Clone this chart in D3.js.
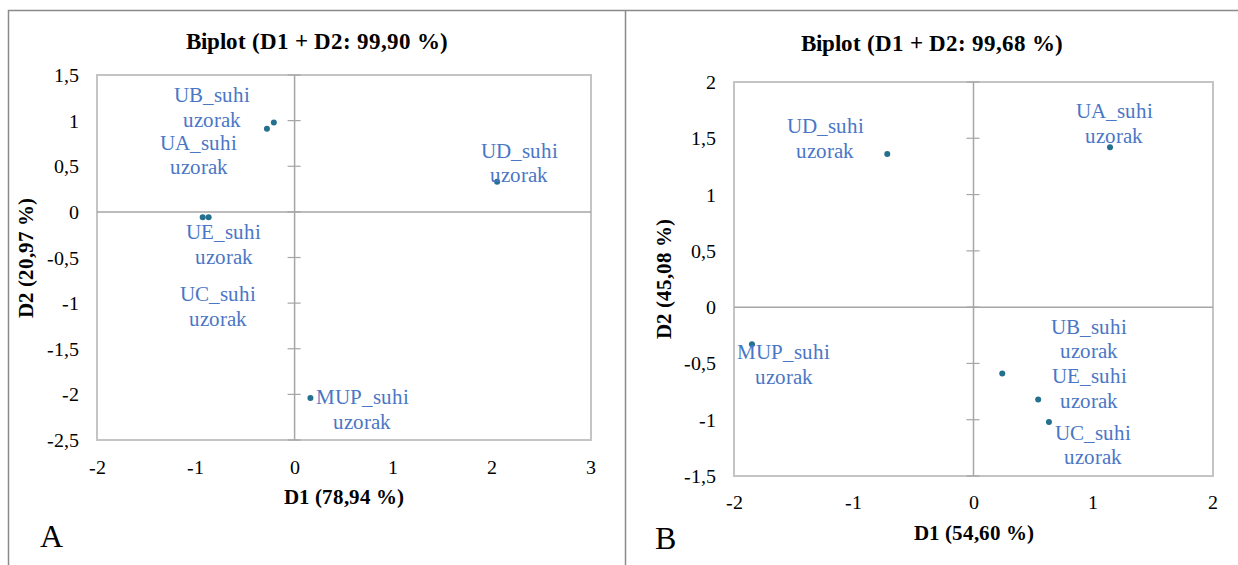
<!DOCTYPE html>
<html>
<head>
<meta charset="utf-8">
<script src="https://cdn.jsdelivr.net/npm/d3@7"></script>
<style>
  @font-face { font-family: "RefSerif"; font-weight: normal; src: local("Liberation Serif"), local("LiberationSerif"), local("Tinos"); }
  @font-face { font-family: "RefSerif"; font-weight: bold; src: local("Liberation Serif Bold"), local("LiberationSerif-Bold"), local("Tinos Bold"); }
  body { margin: 0; font-family: "Liberation Serif", monospace; }
</style>
</head>
<body>
<svg id="chart" width="1238" height="565"></svg>
<script>
// ---------------- DATA ----------------
const labelsA = ["UA_suhi uzorak", "UB_suhi uzorak", "UC_suhi uzorak", "UD_suhi uzorak", "UE_suhi uzorak", "MUP_suhi uzorak"];
const d1A = [-0.28, -0.21, -0.93, 2.05, -0.87, 0.16];
const d2A = [0.91, 0.98, -0.06, 0.33, -0.06, -2.04];
const xTicksA = [-2, -1, 0, 1, 2, 3];
const yTicksA = [-2.5, -2, -1.5, -1, -0.5, 0, 0.5, 1, 1.5];
const titleA = "Biplot (D1 + D2: 99,90 %)";
const xTitleA = "D1 (78,94 %)";
const yTitleA = "D2 (20,97 %)";

const labelsB = ["UA_suhi uzorak", "UB_suhi uzorak", "UC_suhi uzorak", "UD_suhi uzorak", "UE_suhi uzorak", "MUP_suhi uzorak"];
const d1B = [1.14, 0.24, 0.63, -0.72, 0.54, -1.85];
const d2B = [1.42, -0.59, -1.02, 1.36, -0.82, -0.33];
const xTicksB = [-2, -1, 0, 1, 2];
const yTicksB = [-1.5, -1, -0.5, 0, 0.5, 1, 1.5, 2];
const titleB = "Biplot (D1 + D2: 99,68 %)";
const xTitleB = "D1 (54,60 %)";
const yTitleB = "D2 (45,08 %)";

// ---------------- LAYOUT ----------------
const FONT = 'RefSerif, "Liberation Serif", Tinos, monospace';
const panels = [
  {
    letter: "A", labels: labelsA, xs: d1A, ys: d2A, xTicks: xTicksA, yTicks: yTicksA,
    title: titleA, xTitle: xTitleA, yTitle: yTitleA,
    box: { left: 97, right: 591, top: 75, bottom: 440 },
    titleX: 316.5, titleY: 49,
    xLabY: 474, xTitleY: 504, yTitleX: 26,
    letterX: 40, letterY: 547,
    offs: [[-68, 14], [-62, -27], [15, 77], [22, -31], [15, 15], [52, -1]]
  },
  {
    letter: "B", labels: labelsB, xs: d1B, ys: d2B, xTicks: xTicksB, yTicks: yTicksB,
    title: titleB, xTitle: xTitleB, yTitle: yTitleB,
    box: { left: 734, right: 1213, top: 82, bottom: 476 },
    titleX: 932, titleY: 51,
    xLabY: 509, xTitleY: 540, yTitleX: 664,
    letterX: 655, letterY: 549,
    offs: [[4, -36], [87, -47], [44, 11], [-62, -28], [51, -23], [32, 8]]
  }
];

const svg = d3.select("#chart").style("display", "block").style("background", "#fff")
  .style("font-family", FONT);
const fmt = v => String(v).replace(".", ",");
const txt = (parent, size, bold) => {
  const t = parent.append("text").style("font-family", FONT).attr("font-size", size);
  if (bold) t.attr("font-weight", "bold");
  return t;
};

svg.append("line").attr("x1", 8).attr("x2", 1238).attr("y1", 10.5).attr("y2", 10.5)
  .attr("stroke", "#8a8a8a").attr("stroke-width", 1.5);
svg.append("line").attr("x1", 8.5).attr("x2", 8.5).attr("y1", 10).attr("y2", 565)
  .attr("stroke", "#8a8a8a").attr("stroke-width", 1.5);
svg.append("line").attr("x1", 625.5).attr("x2", 625.5).attr("y1", 10).attr("y2", 565)
  .attr("stroke", "#8a8a8a").attr("stroke-width", 1.5);

panels.forEach(p => {
  const b = p.box;
  const x = d3.scaleLinear().domain([p.xTicks[0], p.xTicks[p.xTicks.length - 1]]).range([b.left, b.right]);
  const y = d3.scaleLinear().domain([p.yTicks[0], p.yTicks[p.yTicks.length - 1]]).range([b.bottom, b.top]);

  svg.append("rect").attr("x", b.left).attr("y", b.top)
    .attr("width", b.right - b.left).attr("height", b.bottom - b.top)
    .attr("fill", "none").attr("stroke", "#c4c4c4").attr("stroke-width", 2);

  svg.append("line").attr("x1", b.left).attr("x2", b.right).attr("y1", y(0)).attr("y2", y(0))
    .attr("stroke", "#a6a6a6").attr("stroke-width", 1.5);
  svg.append("line").attr("x1", x(0)).attr("x2", x(0)).attr("y1", b.top).attr("y2", b.bottom)
    .attr("stroke", "#a6a6a6").attr("stroke-width", 1.5);

  p.yTicks.forEach(v => {
    svg.append("line").attr("x1", x(0) - 7).attr("x2", x(0) + 6)
      .attr("y1", y(v)).attr("y2", y(v))
      .attr("stroke", "#a6a6a6").attr("stroke-width", 1.2);
  });

  p.yTicks.forEach(v => {
    txt(svg, 20).attr("x", b.left - 18).attr("y", y(v) + 7).attr("text-anchor", "end")
      .attr("fill", "#000").text(fmt(v));
  });
  p.xTicks.forEach(v => {
    txt(svg, 20).attr("x", x(v)).attr("y", p.xLabY).attr("text-anchor", "middle")
      .attr("fill", "#000").text(fmt(v));
  });

  txt(svg, 23, true).attr("x", p.titleX).attr("y", p.titleY).attr("text-anchor", "middle").text(p.title);
  txt(svg, 21, true).attr("x", (b.left + b.right) / 2).attr("y", p.xTitleY).attr("text-anchor", "middle").text(p.xTitle);
  txt(svg, 21, true)
    .attr("transform", `translate(${p.yTitleX + 7},${(b.top + b.bottom) / 2}) rotate(-90)`)
    .attr("text-anchor", "middle").text(p.yTitle);

  txt(svg, 32).attr("x", p.letterX).attr("y", p.letterY).text(p.letter);

  const data = p.labels.map((l, i) => ({ label: l, x: p.xs[i], y: p.ys[i], off: p.offs[i] }));
  data.forEach(d => {
    svg.append("circle").attr("cx", x(d.x)).attr("cy", y(d.y)).attr("r", 3).attr("fill", "#24708f");
    const parts = d.label.split(" ");
    const cx = x(d.x) + d.off[0];
    const cy = y(d.y) + d.off[1] + 7;
    parts.forEach((s, k) => {
      txt(svg, 21).attr("x", cx).attr("y", cy + k * 24.5).attr("text-anchor", "middle")
        .attr("fill", "#4a76c6").text(s);
    });
  });
});
</script>
</body>
</html>
